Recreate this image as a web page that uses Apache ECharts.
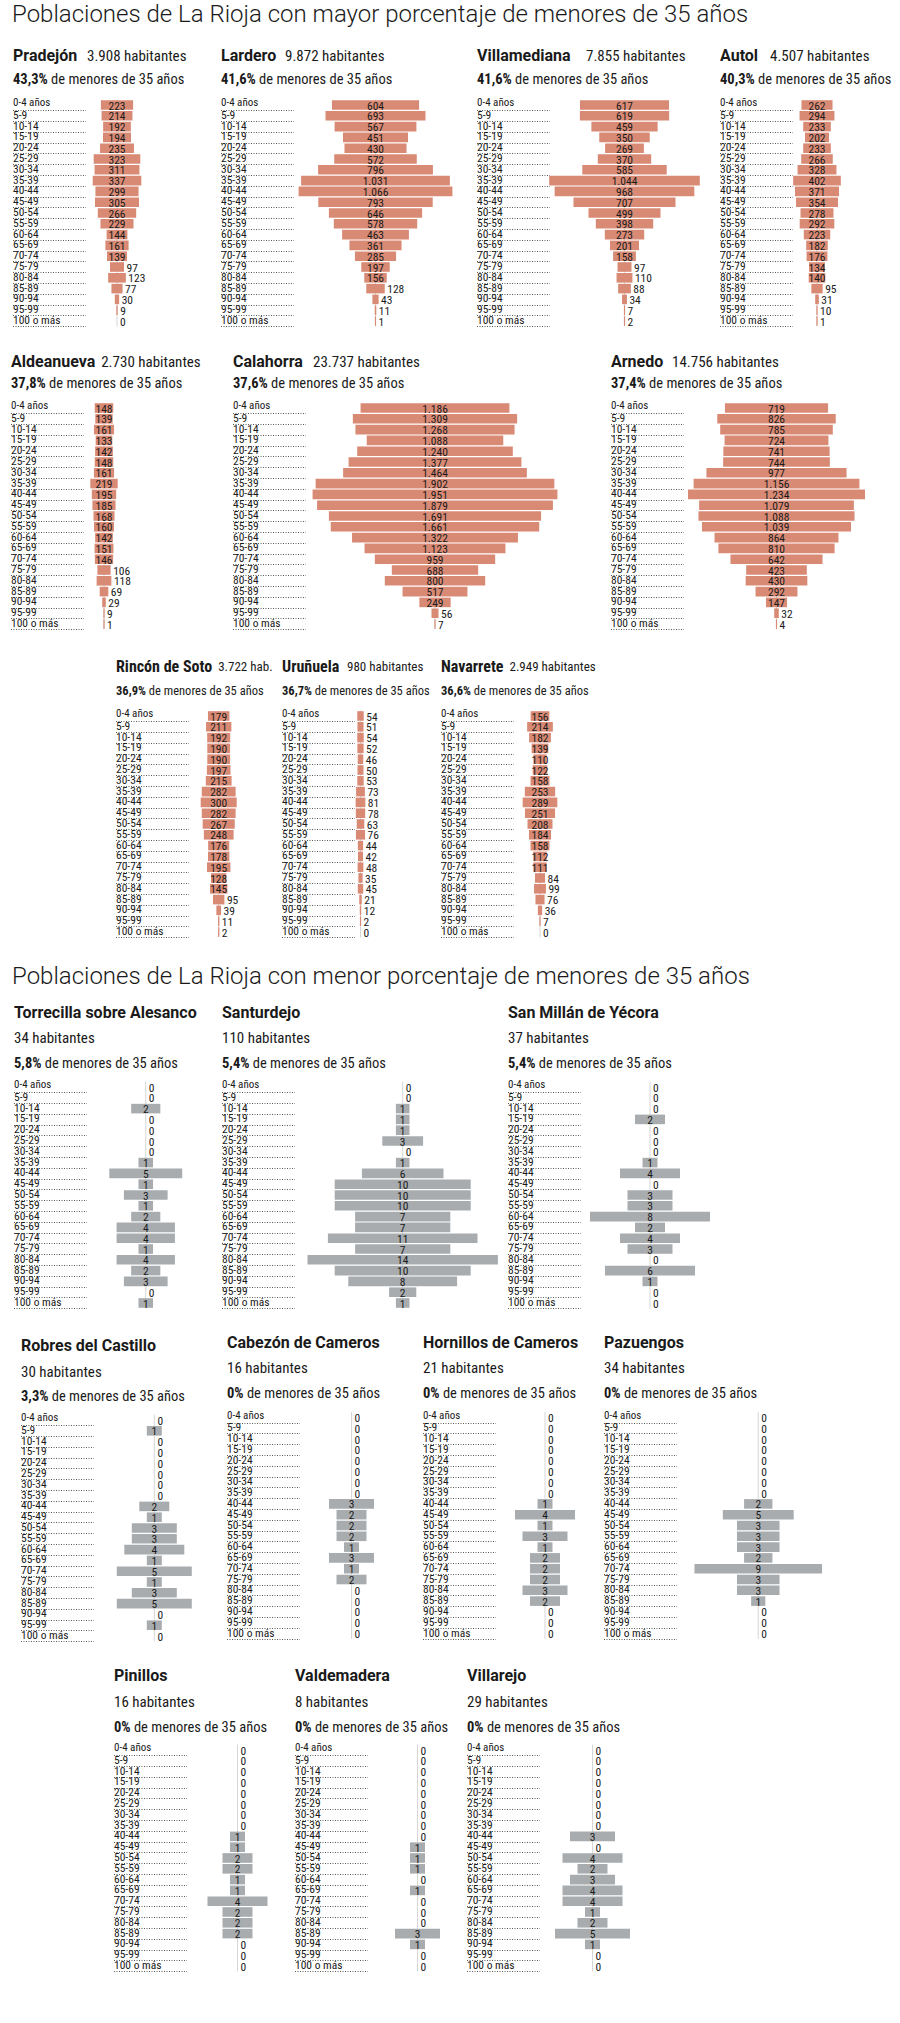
<!DOCTYPE html>
<html><head><meta charset="utf-8">
<script src="https://cdn.jsdelivr.net/npm/echarts@6/dist/echarts.min.js"></script>
<style>html,body{margin:0;padding:0;background:#fff}#c{width:900px;height:2023px}</style>
</head><body><div id="c"></div>
<script>
// ---------- DATA ----------
const ageGroups = ['0-4 años','5-9','10-14','15-19','20-24','25-29','30-34','35-39','40-44','45-49','50-54','55-59','60-64','65-69','70-74','75-79','80-84','85-89','90-94','95-99','100 o más'];

const titleTop = 'Poblaciones de La Rioja con mayor porcentaje de menores de 35 años';
const titleBottom = 'Poblaciones de La Rioja con menor porcentaje de menores de 35 años';

const townNames = ['Pradejón','Lardero','Villamediana','Autol','Aldeanueva','Calahorra','Arnedo','Rincón de Soto','Uruñuela','Navarrete',
  'Torrecilla sobre Alesanco','Santurdejo','San Millán de Yécora','Robres del Castillo','Cabezón de Cameros','Hornillos de Cameros','Pazuengos','Pinillos','Valdemadera','Villarejo'];
const inhabitants = ['3.908 habitantes','9.872 habitantes','7.855 habitantes','4.507 habitantes','2.730 habitantes','23.737 habitantes','14.756 habitantes','3.722 hab.','980 habitantes','2.949 habitantes',
  '34 habitantes','110 habitantes','37 habitantes','30 habitantes','16 habitantes','21 habitantes','34 habitantes','16 habitantes','8 habitantes','29 habitantes'];
const under35Pct = ['43,3%','41,6%','41,6%','40,3%','37,8%','37,6%','37,4%','36,9%','36,7%','36,6%',
  '5,8%','5,4%','5,4%','3,3%','0%','0%','0%','0%','0%','0%'];

const pradejon     = [223,214,192,194,235,323,311,337,299,305,266,229,144,161,139,97,123,77,30,9,0];
const lardero      = [604,693,567,451,430,572,796,1031,1066,793,646,578,463,361,285,197,156,128,43,11,1];
const villamediana = [617,619,459,350,269,370,585,1044,968,707,499,398,273,201,158,97,110,88,34,7,2];
const autol        = [262,294,233,202,233,266,328,402,371,354,278,292,223,182,176,134,140,95,31,10,1];
const aldeanueva   = [148,139,161,133,142,148,161,219,195,185,168,160,142,151,146,106,118,69,29,9,1];
const calahorra    = [1186,1309,1268,1088,1240,1377,1464,1902,1951,1879,1691,1661,1322,1123,959,688,800,517,249,56,7];
const arnedo       = [719,826,785,724,741,744,977,1156,1234,1079,1088,1039,864,810,642,423,430,292,147,32,4];
const rinconDeSoto = [179,211,192,190,190,197,215,282,300,282,267,248,176,178,195,128,145,95,39,11,2];
const urunuela     = [54,51,54,52,46,50,53,73,81,78,63,76,44,42,48,35,45,21,12,2,0];
const navarrete    = [156,214,182,139,110,122,158,253,289,251,208,184,158,112,111,84,99,76,36,7,0];

const torrecilla   = [0,0,2,0,0,0,0,1,5,1,3,1,2,4,4,1,4,2,3,0,1];
const santurdejo   = [0,0,1,1,1,3,0,1,6,10,10,10,7,7,11,7,14,10,8,2,1];
const sanMillan    = [0,0,0,2,0,0,0,1,4,0,3,3,8,2,4,3,0,6,1,0,0];
const robres       = [0,1,0,0,0,0,0,0,2,1,3,3,4,1,5,1,3,5,0,1,0];
const cabezon      = [0,0,0,0,0,0,0,0,3,2,2,2,1,3,1,2,0,0,0,0,0];
const hornillos    = [0,0,0,0,0,0,0,0,1,4,1,3,1,2,2,2,3,2,0,0,0];
const pazuengos    = [0,0,0,0,0,0,0,0,2,5,3,3,3,2,9,3,3,1,0,0,0];
const pinillos     = [0,0,0,0,0,0,0,0,1,1,2,2,1,1,4,2,2,2,0,0,0];
const valdemadera  = [0,0,0,0,0,0,0,0,0,1,1,1,0,1,0,0,0,3,1,0,0];
const villarejo    = [0,0,0,0,0,0,0,0,3,0,4,2,3,4,4,1,2,5,1,0,0];

const seriesValues = [pradejon,lardero,villamediana,autol,aldeanueva,calahorra,arnedo,rinconDeSoto,urunuela,navarrete,
  torrecilla,santurdejo,sanMillan,robres,cabezon,hornillos,pazuengos,pinillos,valdemadera,villarejo];

// ---------- LAYOUT / STYLE ----------
// lx: label column x, hx: inhabitants text x (top section), cx: bar centre x, top: first row top,
// nameY/habY/subY: text rows, M: axis half range, hw: half width px, thr: min value with label inside bar, sz: text size set
const L = [
  {lx:13,  hx:87,  cx:117,   top:99.6,  nameY:55,  subY:79,  M:700,  hw:101, thr:130, sz:'a'},
  {lx:221, hx:285, cx:375.5, top:99.6,  nameY:55,  subY:79,  M:700,  hw:101, thr:140, sz:'a'},
  {lx:477, hx:586, cx:624.5, top:99.6,  nameY:55,  subY:79,  M:700,  hw:101, thr:130, sz:'a'},
  {lx:720, hx:770, cx:835,   top:99.6,  nameY:55,  subY:79,  M:700,  hw:101, thr:120, sz:'a'},
  {lx:11,  hx:97,  cx:104,   top:402.6, nameY:361, subY:383, M:800,  hw:100, thr:130, sz:'a'},
  {lx:233, hx:313, cx:435,   top:402.6, nameY:361, subY:383, M:2000, hw:251, thr:100, sz:'a'},
  {lx:611, hx:672, cx:776.5, top:402.6, nameY:361, subY:383, M:700,  hw:100.4, thr:100, sz:'a'},
  {lx:116, hx:217, cx:218.7, top:710.6, nameY:666, subY:690, M:500,  hw:60, thr:110, sz:'c'},
  {lx:282, hx:347, cx:360.5, top:710.6, nameY:666, subY:690, M:500,  hw:60, thr:100000, sz:'c'},
  {lx:441, hx:505, cx:540,   top:710.6, nameY:666, subY:690, M:500,  hw:60, thr:105, sz:'c'},
  {lx:14,  cx:141.5, top:1081.6, nameY:1012, habY:1038, subY:1063, M:10, hw:150, thr:1, sz:'b'},
  {lx:222, cx:402.7, top:1081.6, nameY:1012, habY:1038, subY:1063, M:10, hw:136, thr:1, sz:'b'},
  {lx:508, cx:650,   top:1081.6, nameY:1012, habY:1038, subY:1063, M:10, hw:150, thr:1, sz:'b'},
  {lx:21,  cx:154.3, top:1414.6, nameY:1345, habY:1372, subY:1396, M:10, hw:150, thr:1, sz:'b'},
  {lx:227, cx:351.5, top:1412.1, nameY:1342, habY:1368, subY:1393, M:10, hw:150, thr:1, sz:'b'},
  {lx:423, cx:545,   top:1412.1, nameY:1342, habY:1368, subY:1393, M:10, hw:150, thr:1, sz:'b'},
  {lx:604, cx:766.5, top:1412.1, nameY:1342, habY:1368, subY:1393, M:10, hw:150, thr:1, sz:'b'},
  {lx:114, cx:237.5, top:1744.6, nameY:1675, habY:1702, subY:1727, M:10, hw:150, thr:1, sz:'b'},
  {lx:295, cx:417.5, top:1744.6, nameY:1675, habY:1702, subY:1727, M:10, hw:150, thr:1, sz:'b'},
  {lx:467, cx:592.5, top:1744.6, nameY:1675, habY:1702, subY:1727, M:10, hw:150, thr:1, sz:'b'}
];
const ROW = 10.8;
const COND = "'Roboto Condensed', 'DejaVu Sans Condensed', sans-serif";
const ROBO = "Roboto, 'Liberation Sans', sans-serif";
const SIZES = {
  a: {name:'bold 16px '+ROBO, hab:'15px '+COND, subB:'bold 14.5px '+COND, sub:'14.5px '+COND},
  c: {name:'bold 16px '+COND, hab:'13px '+COND, subB:'bold 12.5px '+COND, sub:'12.5px '+COND},
  b: {name:'bold 16px '+ROBO, hab:'15px '+COND, subB:'bold 14.5px '+COND, sub:'14.5px '+COND}
};
const SALMON = '#d98a75';
const GREY = '#a8acaf';
const INK = '#1a1a1a';
const CENTER_LINE = '#d6d6d6';

function fmt(v){ return String(v).replace(/\B(?=(\d{3})+(?!\d))/g, '.'); }
const measureCtx = document.createElement('canvas').getContext('2d');
function textWidth(t, font){ measureCtx.font = font; return measureCtx.measureText(t).width; }

const grids = [], xAxes = [], yAxes = [], series = [], graphics = [];

graphics.push({type:'text', x:12, y:14, style:{text:titleTop, font:'300 24px '+ROBO, fill:INK, verticalAlign:'middle'}});
graphics.push({type:'text', x:12, y:976, style:{text:titleBottom, font:'300 24px '+ROBO, fill:INK, verticalAlign:'middle'}});

L.forEach((p, k) => {
  const bottom = k >= 10;
  const vals = seriesValues[k];
  const h = ROW * ageGroups.length;
  const S = SIZES[p.sz];
  // label column grid
  const gi = grids.length;
  grids.push({left:p.lx, top:p.top, width:73, height:h, containLabel:false});
  xAxes.push({gridIndex:gi, type:'value', min:0, max:1, show:false});
  const dotColors = ['rgba(255,255,255,0)'].concat(ageGroups.map(() => '#5a5a5a'));
  yAxes.push({gridIndex:gi, type:'category', data:ageGroups, inverse:true,
    axisLine:{show:false}, axisTick:{show:false},
    axisLabel:{inside:true, margin:0, interval:0, fontFamily:COND, fontSize:11.5, color:INK, verticalAlign:'middle', padding:[0,0,2,0],
      formatter:(v, i) => i === 0 ? '{s|' + v + '}' : v,
      rich:{s:{fontFamily:COND, fontSize:11, color:INK, padding:[0,0,3,0]}}},
    splitLine:{show:true, interval:0, lineStyle:{type:[1,1.5], color:dotColors, width:1}}});
  // bar grid
  const bi = grids.length;
  grids.push({left:p.cx - p.hw, top:p.top, width:2*p.hw, height:h, containLabel:false});
  xAxes.push({gridIndex:bi, type:'value', min:-p.M, max:p.M, interval:p.M, show:false});
  yAxes.push({gridIndex:bi, type:'category', data:ageGroups, inverse:true, show:false});
  const color = bottom ? GREY : SALMON;
  series.push({
    type:'custom', xAxisIndex:bi, yAxisIndex:bi, clip:false,
    data: vals.map((v,i) => [v, i]),
    encode:{x:0, y:1},
    renderItem: function(params, api){
      const v = api.value(0), i = api.value(1);
      const a = api.coord([-v/2, i]), b = api.coord([v/2, i]), z = api.coord([0, i]);
      const band = api.size([0,1])[1];
      const bh = band - 1.2;
      const children = [];
      children.push({type:'line', shape:{x1:z[0], y1:z[1]-band/2, x2:z[0], y2:z[1]+band/2}, style:{stroke:CENTER_LINE, lineWidth:1}});
      if (v > 0) {
        let w = b[0]-a[0]; let x = a[0];
        if (w < 1.2) { x = z[0] - 0.6; w = 1.2; }
        children.push({type:'rect', shape:{x:x, y:a[1]-bh/2, width:w, height:bh}, style:{fill:color}});
      }
      const inside = v >= p.thr;
      const right = Math.max(b[0], z[0] + 0.6);
      children.push({type:'text', style:{text:fmt(v), x: inside ? z[0] : right + 2.5, y:z[1]+0.5,
        align: inside ? 'center' : 'left', verticalAlign:'middle', font:'11.5px '+COND, fill:INK}});
      return {type:'group', children:children};
    }
  });
  // texts
  graphics.push({type:'text', x:p.lx, y:p.nameY, style:{text:townNames[k], font:S.name, fill:INK, verticalAlign:'middle'}});
  if (!bottom) {
    const hx = Math.max(p.hx, p.lx + textWidth(townNames[k], S.name) + 6);
    graphics.push({type:'text', x:hx, y:p.nameY + 0.5, style:{text:inhabitants[k], font:S.hab, fill:INK, verticalAlign:'middle'}});
  } else {
    graphics.push({type:'text', x:p.lx, y:p.habY, style:{text:inhabitants[k], font:S.hab, fill:INK, verticalAlign:'middle'}});
  }
  graphics.push({type:'text', x:p.lx, y:p.subY, style:{
    text:'{b|'+under35Pct[k]+'}{r| de menores de 35 años}', verticalAlign:'middle',
    rich:{b:{font:S.subB, fill:INK}, r:{font:S.sub, fill:INK}}}});
});

const chart = echarts.init(document.getElementById('c'), null, {renderer:'svg', width:900, height:2023});
chart.setOption({
  animation:false,
  backgroundColor:'#fff',
  grid:grids, xAxis:xAxes, yAxis:yAxes, series:series, graphic:graphics
});
</script>
</body></html>
